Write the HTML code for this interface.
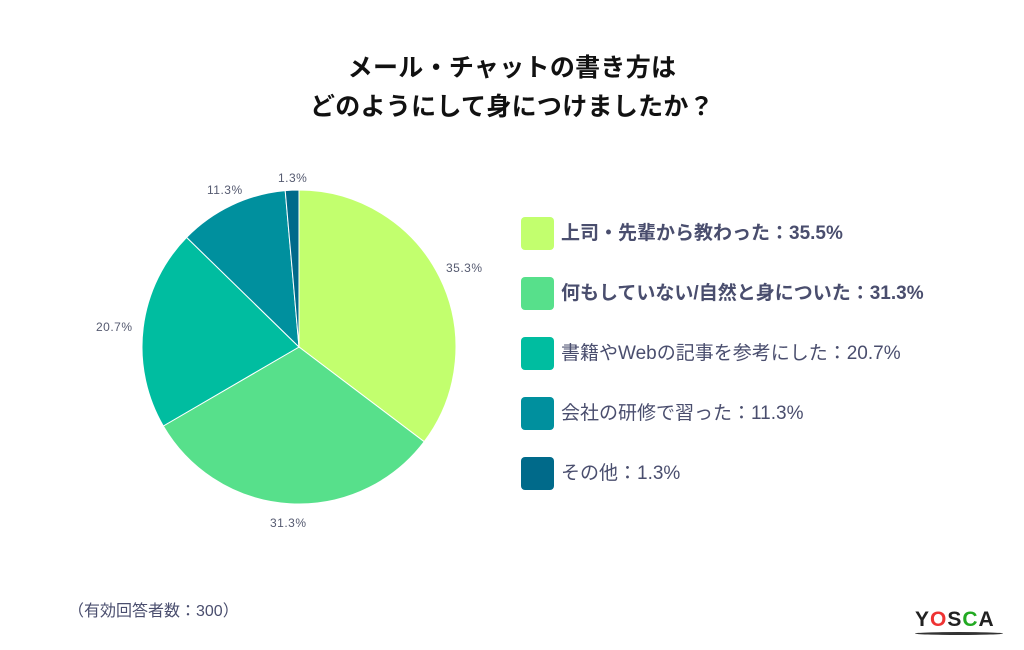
<!DOCTYPE html>
<html><head><meta charset="utf-8"><style>
body{margin:0;width:1024px;height:650px;background:#fff;font-family:"Liberation Sans","Noto Sans CJK JP",sans-serif;position:relative;overflow:hidden}
.t{position:absolute;left:0;width:1024px;text-align:center;font-size:25px;font-weight:bold;color:#111;letter-spacing:0.3px}
.lg{position:absolute;left:521px;width:33px;height:33px;border-radius:4px}
.lt{position:absolute;left:561px;font-size:19px;color:#4a4e6e;line-height:24px;letter-spacing:0px}
.pl{position:absolute;font-size:12px;color:#555a70;letter-spacing:0.5px}
</style></head><body>
<div class="t" style="top:48px">メール・チャットの書き方は</div>
<div class="t" style="top:87px">どのようにして身につけましたか？</div>
<svg width="1024" height="650" style="position:absolute;left:0;top:0">
<g stroke="#fff" stroke-width="1">
<path d="M299,347 L299,190 A157,157 0 0 1 424.2,441.7 Z" fill="#c2ff6e"/>
<path d="M299,347 L424.2,441.7 A157,157 0 0 1 163.3,426 Z" fill="#57e08b"/>
<path d="M299,347 L163.3,426 A157,157 0 0 1 186.6,237.4 Z" fill="#00bda0"/>
<path d="M299,347 L186.6,237.4 A157,157 0 0 1 285.2,190.6 Z" fill="#00909e"/>
<path d="M299,347 L285.2,190.6 A157,157 0 0 1 299,190 Z" fill="#006a8a"/>
</g>
</svg>
<div class="pl" style="left:446px;top:261px">35.3%</div>
<div class="pl" style="left:270px;top:516px">31.3%</div>
<div class="pl" style="left:96px;top:320px">20.7%</div>
<div class="pl" style="left:207px;top:183px">11.3%</div>
<div class="pl" style="left:278px;top:171px">1.3%</div>
<div class="lg" style="top:217px;background:#c2ff6e"></div>
<div class="lt" style="top:222px;font-weight:bold">上司・先輩から教わった：35.5%</div>
<div class="lg" style="top:277px;background:#57e08b"></div>
<div class="lt" style="top:282px;font-weight:bold">何もしていない/自然と身についた：31.3%</div>
<div class="lg" style="top:337px;background:#00bda0"></div>
<div class="lt" style="top:342px">書籍やWebの記事を参考にした：20.7%</div>
<div class="lg" style="top:397px;background:#00909e"></div>
<div class="lt" style="top:402px">会社の研修で習った：11.3%</div>
<div class="lg" style="top:457px;background:#006a8a"></div>
<div class="lt" style="top:462px">その他：1.3%</div>
<div style="position:absolute;left:68px;top:597px;font-size:16px;color:#4a4e6e">（有効回答者数：300）</div>
<div style="position:absolute;left:915px;top:608px;font-size:21px;font-weight:bold;color:#222;letter-spacing:1px">Y<span style="color:#e33">O</span>S<span style="color:#2a2">C</span>A</div>
<div style="position:absolute;left:915px;top:632px;width:88px;height:3px;border-radius:50%;background:#333"></div>
</body></html>
